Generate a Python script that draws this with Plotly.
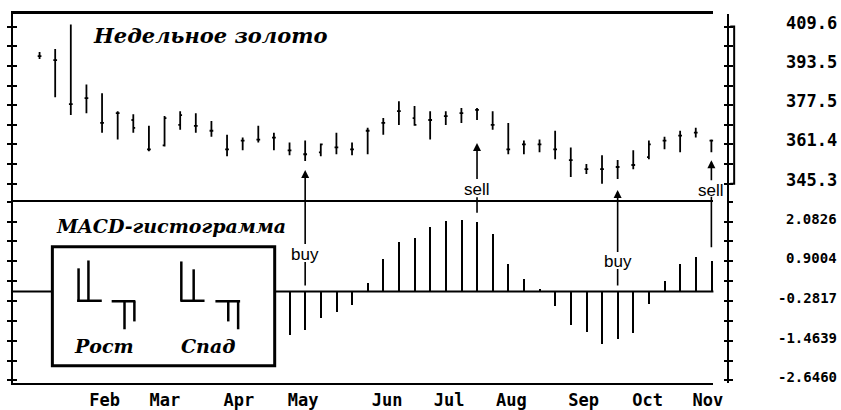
import plotly.graph_objects as go

W, H = 841, 410

# ---- weekly gold bars (week index 0..43) ----
weeks = list(range(44))
high = [399.2, 400.4, 410.4, 385.9, 382.3, 375.0, 373.8, 369.0, 373.0, 375.0,
        374.2, 371.0, 365.4, 364.2, 369.0, 366.2, 362.2, 363.0, 361.8, 366.2,
        362.2, 368.2, 372.2, 379.1, 377.1, 375.0, 375.0, 376.3, 376.3, 375.0,
        370.2, 363.0, 363.4, 367.0, 360.2, 353.4, 357.0, 355.0, 359.0, 363.0,
        364.6, 367.0, 368.2, 363.4]
low = [396.3, 380.7, 373.4, 374.2, 366.2, 363.4, 366.2, 358.6, 360.6, 367.4,
       366.2, 364.6, 356.6, 359.0, 362.2, 359.0, 357.0, 354.6, 356.6, 357.4,
       357.0, 357.4, 365.4, 369.4, 369.0, 363.4, 369.4, 370.2, 371.4, 367.4,
       357.4, 357.4, 358.2, 355.4, 348.1, 349.3, 345.3, 347.3, 351.3, 355.4,
       359.4, 358.2, 364.2, 358.2]
open_ = [397.5, 395.9, 377.9, 380.3, 370.2, 374.2, 371.4, 359.4, 361.0, 369.4,
         369.0, 367.0, 359.4, 363.0, 363.4, 364.2, 359.0, 357.4, 358.2, 360.2,
         359.4, 367.0, 370.2, 375.0, 372.2, 371.4, 373.0, 374.2, 375.5, 369.4,
         359.4, 361.4, 361.4, 359.4, 355.0, 351.3, 351.3, 352.2, 353.0, 356.2,
         363.0, 365.0, 366.2, 363.0]
close = [397.5, 395.9, 377.9, 380.3, 370.2, 374.2, 368.2, 359.4, 372.2, 373.4,
         369.0, 367.0, 359.4, 363.0, 363.4, 364.2, 359.0, 357.4, 361.4, 360.2,
         359.4, 367.0, 370.2, 375.0, 369.4, 371.4, 373.0, 374.2, 375.5, 369.4,
         359.4, 361.4, 361.4, 359.4, 355.0, 351.3, 351.3, 352.2, 353.0, 361.4,
         363.0, 365.0, 366.2, 363.0]

# ---- MACD histogram ----
macd_weeks = list(range(16, 44))
macd_hist = [-1.27, -1.12, -0.77, -0.59, -0.39, 0.26, 0.99, 1.49, 1.61, 1.93,
             2.11, 2.16, 2.08, 1.72, 0.84, 0.40, 0.08, -0.42, -0.97, -1.18,
             -1.56, -1.41, -1.21, -0.36, 0.32, 0.84, 1.05, 0.93]

# ---- axis labels ----
month_names = ["Feb", "Mar", "Apr", "May", "Jun", "Jul", "Aug", "Sep", "Oct", "Nov"]
month_pos = [4.17, 8.02, 12.76, 16.87, 22.24, 26.22, 30.20, 34.82, 38.92, 42.78]
price_labels = [409.6, 393.5, 377.5, 361.4, 345.3]
macd_labels = [2.0826, 0.9004, -0.2817, -1.4639, -2.6460]

# ---- trade signals (week, kind) ----
signals = [(17, "buy"), (28, "sell"), (37, "buy"), (43, "sell")]

# minor ticks: label levels plus the half steps between them
price_ticks = []
for a, b in zip(price_labels[:-1], price_labels[1:]):
    price_ticks += [a, (a + b) / 2]
price_ticks.append(price_labels[-1])
step_m = macd_labels[0] - macd_labels[1]
macd_ticks = [macd_labels[0] + step_m / 2]
for a, b in zip(macd_labels[:-1], macd_labels[1:]):
    macd_ticks += [a, (a + b) / 2]
macd_ticks.append(macd_labels[-1])


def px(x):
    return x / W


def py(y):
    return 1 - y / H


X_DOM = [px(13), px(722)]
X_RANGE = [-1.71, 43.13]
PRICE_RANGE = [338.09, 414.82]
MACD_RANGE = [-2.735, 2.682]
TOP_DOM = [0.5, py(14)]
BOT_DOM = [py(390), 0.5]
AX_R = px(737)

ink = "black"
mono = "DejaVu Sans Mono"
serif = "DejaVu Serif"

fig = go.Figure()

fig.add_trace(go.Ohlc(
    x=weeks, open=open_, high=high, low=low, close=close,
    xaxis="x2", yaxis="y", tickwidth=0.12,
    increasing=dict(line=dict(color=ink, width=1.8)),
    decreasing=dict(line=dict(color=ink, width=1.8)),
    hoverinfo="skip", showlegend=False,
))

fig.add_trace(go.Bar(
    x=macd_weeks, y=macd_hist, width=0.13, xaxis="x", yaxis="y2",
    marker=dict(color=ink, line=dict(width=0)), hoverinfo="skip", showlegend=False,
))

# empty traces so every tick-only axis gets drawn
for xa, ya in [("x2", "y3"), ("x", "y4"), ("x2", "y5"), ("x2", "y6"), ("x", "y7"), ("x", "y8")]:
    fig.add_trace(go.Scatter(x=[None], y=[None], xaxis=xa, yaxis=ya,
                             showlegend=False, hoverinfo="skip"))


def yax(rng, dom, tickvals, ticks, anchor, showline, **kw):
    d = dict(range=rng, tickvals=tickvals, ticks=ticks, ticklen=4, tickwidth=2,
             tickcolor=ink, showticklabels=False, showgrid=False, zeroline=False,
             showline=showline, linewidth=2, linecolor=ink, anchor=anchor, fixedrange=True)
    if dom is not None:
        d["domain"] = dom
    d.update(kw)
    return d


fig.update_layout(
    width=W, height=H, margin=dict(l=0, r=0, t=0, b=0),
    paper_bgcolor="white", plot_bgcolor="white", showlegend=False, bargap=0,
    xaxis=dict(domain=X_DOM, range=X_RANGE, anchor="y2", showline=True, linewidth=2,
               linecolor=ink, mirror=True, ticks="", tickvals=month_pos, ticktext=month_names,
               tickfont=dict(family=mono, size=17, color=ink, weight="bold"),
               showgrid=False, zeroline=False, fixedrange=True,
               rangeslider=dict(visible=False)),
    xaxis2=dict(domain=X_DOM, range=X_RANGE, matches="x", anchor="y", side="top",
                showline=True, linewidth=3, linecolor=ink, mirror=False,
                showticklabels=False, ticks="", showgrid=False, zeroline=False,
                fixedrange=True, rangeslider=dict(visible=False)),
    yaxis=yax(PRICE_RANGE, TOP_DOM, price_ticks, "outside", "x2", True),
    yaxis2=yax(MACD_RANGE, BOT_DOM, macd_ticks, "outside", "x", True),
    yaxis3=yax(PRICE_RANGE, None, price_ticks, "inside", "x2", False, overlaying="y", side="left"),
    yaxis4=yax(MACD_RANGE, None, macd_ticks, "inside", "x", False, overlaying="y2", side="left"),
    yaxis5=yax(PRICE_RANGE, None, price_ticks, "outside", "free", True, overlaying="y",
               side="right", position=AX_R),
    yaxis6=yax(PRICE_RANGE, None, price_ticks, "inside", "free", False, overlaying="y",
               side="right", position=AX_R),
    yaxis7=yax(MACD_RANGE, None, macd_ticks, "outside", "free", True, overlaying="y2",
               side="right", position=AX_R),
    yaxis8=yax(MACD_RANGE, None, macd_ticks, "inside", "free", False, overlaying="y2",
               side="right", position=AX_R),
)

shapes = []
# MACD zero line
shapes.append(dict(type="line", xref="x domain", yref="y2", x0=0, x1=1, y0=0, y1=0,
                   line=dict(color=ink, width=2), layer="below"))
# bracket beside the price scale
shapes.append(dict(type="path", xref="paper", yref="y",
                   path=f"M {px(739)},{price_labels[0]} L {px(743)},{price_labels[0]} "
                        f"L {px(743)},{price_labels[-1]} L {px(739)},{price_labels[-1]}",
                   line=dict(color=ink, width=2)))
# legend box
shapes.append(dict(type="rect", xref="paper", yref="paper", x0=px(53), x1=px(278),
                   y0=py(372), y1=py(251), line=dict(color=ink, width=3),
                   fillcolor="white", layer="above"))


def seg(x0, y0, x1, y1, w=2.5):
    return dict(type="line", xref="paper", yref="paper", x0=px(x0), y0=py(y0),
                x1=px(x1), y1=py(y1), line=dict(color=ink, width=w), layer="above")


# rising pattern
shapes += [seg(78, 306, 103, 306), seg(79.5, 273, 79.5, 306), seg(89.5, 265, 89.5, 306),
           seg(113, 306.5, 137, 306.5), seg(126, 306.5, 126, 335), seg(136, 306.5, 136, 327)]
# falling pattern
shapes += [seg(182.5, 306, 207, 306), seg(183.5, 266, 183.5, 306), seg(196, 274, 196, 306),
           seg(218, 306.5, 243, 306.5), seg(231, 306.5, 231, 327), seg(241, 306.5, 241, 335)]
fig.update_layout(shapes=shapes)

ann = []
bold_mono = lambda s: dict(family=mono, size=s, color=ink, weight="bold")
for v in price_labels:
    ann.append(dict(x=px(838), xref="paper", xanchor="right", xshift=11, y=v, yref="y",
                    yshift=4, text=f"{v:.1f}", showarrow=False, font=bold_mono(17)))
for v in macd_labels:
    ann.append(dict(x=px(838), xref="paper", xanchor="right", xshift=11, y=v, yref="y2",
                    yshift=3, text=f"{v:.4f}", showarrow=False, font=bold_mono(14)))

title_font = lambda s: dict(family=serif, size=s, color=ink)
ann.append(dict(x=px(92), y=py(36), xref="paper", yref="paper", xanchor="left",
                yanchor="middle", text="<b><i>Недельное золото</i></b>", showarrow=False,
                font=title_font(21)))
ann.append(dict(x=px(55), y=py(230), xref="paper", yref="paper", xanchor="left",
                yanchor="middle", text="<b><i>MACD-гистограмма</i></b>", showarrow=False,
                font=title_font(19)))
ann.append(dict(x=px(105.5), y=py(352), xref="paper", yref="paper", xanchor="center",
                yanchor="middle", text="<b><i>Рост</i></b>", showarrow=False,
                font=title_font(19)))
ann.append(dict(x=px(210), y=py(352), xref="paper", yref="paper", xanchor="center",
                yanchor="middle", text="<b><i>Спад</i></b>", showarrow=False,
                font=title_font(19)))

# signal arrows: label under the bar with an arrow up to it, plus a connector in the MACD pane
sig_style = {
    17: dict(ay=93, standoff=9, conn_ay=-31, conn_so=6, conn_base=False),
    28: dict(ay=69, standoff=23, conn_ay=-26, conn_so=9, conn_base=True),
    37: dict(ay=83, standoff=11, conn_ay=-24, conn_so=6, conn_base=False),
    43: dict(ay=38, standoff=8, conn_ay=-65, conn_so=13, conn_base=True),
}
sig_font = dict(family="Liberation Sans", size=17, color=ink)
for wk, kind in signals:
    st = sig_style[wk]
    ann.append(dict(x=wk, xref="x2", y=low[wk], yref="y", text=kind, showarrow=True,
                    ax=0, ay=st["ay"], standoff=st["standoff"], arrowhead=2, arrowsize=1,
                    arrowwidth=1.6, arrowcolor=ink, borderpad=0, font=sig_font))
    base = macd_hist[macd_weeks.index(wk)] if st["conn_base"] else 0
    ann.append(dict(x=wk, xref="x", y=base, yref="y2", text="", showarrow=True,
                    ax=0, ay=st["conn_ay"], standoff=st["conn_so"], arrowhead=0,
                    arrowwidth=1.6, arrowcolor=ink))

fig.update_layout(annotations=ann)

fig.write_html("out.html")
